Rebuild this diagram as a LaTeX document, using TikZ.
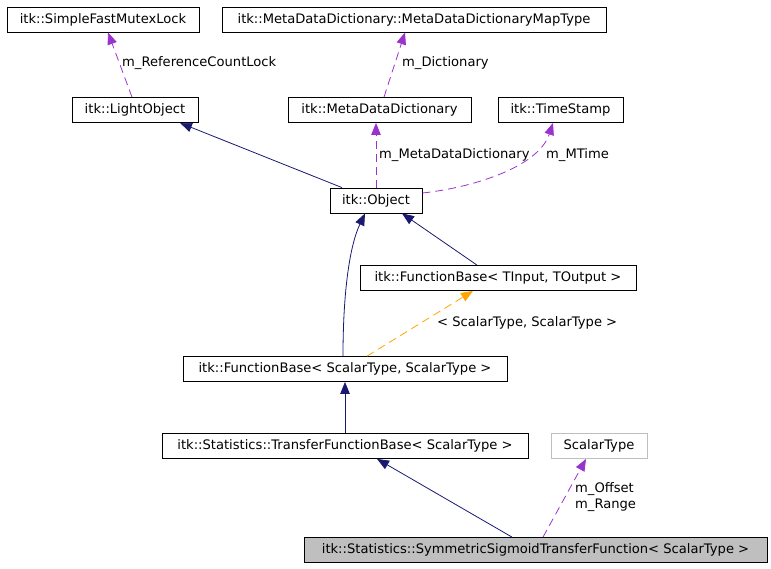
\documentclass[tikz,border=0pt]{standalone}
\usepackage{fontspec}
\setmainfont{DejaVu Sans}
\usepackage{tikz}
\usetikzlibrary{arrows.meta,positioning}

\definecolor{inhblue}{HTML}{191970}
\definecolor{usepurple}{HTML}{9A32CD}
\definecolor{tmplorange}{HTML}{FFA500}

\begin{document}
\begin{tikzpicture}[x=1pt, y=-1pt, >={Triangle[length=12pt,width=9.5pt]},
    font=\fontsize{13.1}{15.5}\selectfont,
    cls/.style={draw=black, line width=0.8pt, minimum height=25pt, inner sep=0pt},
    ghost/.style={cls, draw=black!25},
    focus/.style={cls, fill=black!25},
    inh/.style={->, draw=inhblue, line width=0.8pt},
    use/.style={->, draw=usepurple, line width=0.8pt, dash pattern=on 8pt off 5pt},
    tmpl/.style={->, draw=tmplorange, line width=0.8pt, dash pattern=on 8pt off 5pt},
    lbl/.style={anchor=west, inner sep=0pt}]
\useasboundingbox (0,0) rectangle (771,568);

\node[cls, minimum width=192pt] (SFML) at (103,19.5) {itk::SimpleFastMutexLock};
\node[cls, minimum width=384pt] (MapT) at (414,19.5) {itk::MetaDataDictionary::MetaDataDictionaryMapType};
\node[cls, minimum width=126pt] (LO) at (135,110) {itk::LightObject};
\node[cls, minimum width=183pt] (MDD) at (379.5,110) {itk::MetaDataDictionary};
\node[cls, minimum width=125pt] (TS) at (560.5,110) {itk::TimeStamp};
\node[cls, minimum width=92pt] (Obj) at (376,200.5) {itk::Object};
\node[cls, minimum width=276pt] (FBTT) at (498,278) {itk::FunctionBase< TInput, TOutput >};
\node[cls, minimum width=324pt] (FBSS) at (345,369) {itk::FunctionBase< ScalarType, ScalarType >};
\node[cls, minimum width=366pt] (TFB) at (345,446) {itk::Statistics::TransferFunctionBase< ScalarType >};
\node[ghost, minimum width=96pt] (ST) at (599,446) {ScalarType};
\node[focus, minimum width=463pt] (SSTF) at (535.5,550) {itk::Statistics::SymmetricSigmoidTransferFunction< ScalarType >};

% members
\draw[use] ([xshift=-3pt]LO.north) -- ([xshift=5pt]SFML.south);
\node[lbl] (lRef) at (122,63) {m\_ReferenceCountLock};
\draw[use] ([xshift=4.5pt]MDD.north) -- ([xshift=-9pt]MapT.south);
\node[lbl] (lDict) at (402,63) {m\_Dictionary};
\draw[use] (Obj.north) -- ([xshift=-3.5pt]MDD.south);
\node[lbl] (lMDD) at (379,155) {m\_MetaDataDictionary};
\draw[use] ([yshift=7.5pt]Obj.east) .. controls (470,188) and (538,168) .. ([xshift=-7.5pt]TS.south);
\node[lbl] (lTime) at (546,155) {m\_MTime};
\draw[use] ([xshift=7.5pt]SSTF.north) -- ([xshift=-13pt]ST.south);
\node[lbl, align=left] (lOff) at (575,497) {m\_Offset\\m\_Range};

% inheritance
\draw[inh] ([xshift=-34pt]Obj.north) -- ([xshift=45pt]LO.south);
\draw[inh] ([xshift=-21pt]FBTT.north) -- ([xshift=26pt]Obj.south);
\draw[inh] ([xshift=-2pt]FBSS.north) .. controls (343,290) and (350,245) .. ([xshift=-11pt]Obj.south);
\draw[inh] (TFB.north) -- (FBSS.south);
\draw[inh] ([xshift=-23.5pt]SSTF.north) -- ([xshift=32pt]TFB.south);

% template instance
\draw[tmpl] ([xshift=22pt]FBSS.north) -- ([xshift=-25pt]FBTT.south);
\node[lbl] (lTmpl) at (437,323) {< ScalarType, ScalarType >};
\end{tikzpicture}
\end{document}
